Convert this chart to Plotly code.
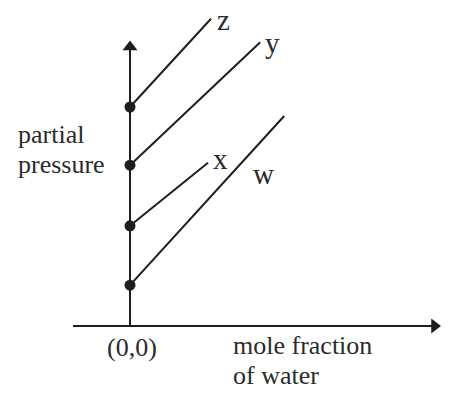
import plotly.graph_objects as go

# data (units: diagram units, origin at (0,0))
line_names = ["w", "x", "y", "z"]
intercepts = [0.68, 1.67, 2.68, 3.65]
end_x = [2.57, 1.30, 2.17, 1.35]
end_y = [3.50, 2.72, 4.73, 5.12]
label_x = [2.22, 1.50, 2.37, 1.55]
label_y = [2.53, 2.78, 4.72, 5.10]

axis_x_end = 5.18
axis_y_end = 4.75
axis_x_start = -0.95

INK = "#1e1e1e"
TXT = "#2b2b2b"
FONT = "Liberation Serif"

fig = go.Figure()

# axes lines
fig.add_trace(go.Scatter(x=[axis_x_start, axis_x_end - 0.05], y=[0, 0], mode="lines",
                         line=dict(color=INK, width=2), hoverinfo="skip"))
fig.add_trace(go.Scatter(x=[0, 0], y=[0, axis_y_end - 0.05], mode="lines",
                         line=dict(color=INK, width=2), hoverinfo="skip"))
# arrow heads
fig.add_trace(go.Scatter(x=[axis_x_end - 0.105], y=[0], mode="markers",
                         marker=dict(symbol="triangle-right", size=13, color=INK), hoverinfo="skip"))
fig.add_trace(go.Scatter(x=[0], y=[axis_y_end - 0.1], mode="markers",
                         marker=dict(symbol="triangle-up", size=13, color=INK), hoverinfo="skip"))

# lines
for name, b, ex, ey in zip(line_names, intercepts, end_x, end_y):
    fig.add_trace(go.Scatter(x=[0, ex], y=[b, ey], mode="lines",
                             line=dict(color=INK, width=2), hoverinfo="skip", name=name))

# points on axis
fig.add_trace(go.Scatter(x=[0] * len(intercepts), y=intercepts, mode="markers",
                         marker=dict(size=11, color=INK), hoverinfo="skip"))

# line labels
for name, lx, ly in zip(line_names, label_x, label_y):
    fig.add_annotation(x=lx, y=ly, text=name, showarrow=False,
                       font=dict(family=FONT, size=29, color=TXT), xanchor="center", yanchor="middle")

txt_font = dict(family=FONT, size=26, color=TXT)
fig.add_annotation(x=-1.9, y=3.20, text="partial", showarrow=False,
                   font=txt_font, xanchor="left", yanchor="middle")
fig.add_annotation(x=-1.9, y=2.70, text="pressure", showarrow=False,
                   font=txt_font, xanchor="left", yanchor="middle")
fig.add_annotation(x=0.03, y=-0.35, text="(0,0)", showarrow=False,
                   font=txt_font, xanchor="center", yanchor="middle")
fig.add_annotation(x=1.68, y=-0.33, text="mole fraction", showarrow=False,
                   font=txt_font, xanchor="left", yanchor="middle")
fig.add_annotation(x=1.68, y=-0.83, text="of water", showarrow=False,
                   font=txt_font, xanchor="left", yanchor="middle")

fig.update_layout(
    width=452, height=401,
    margin=dict(l=0, r=0, t=0, b=0),
    paper_bgcolor="white", plot_bgcolor="white",
    showlegend=False,
    xaxis=dict(range=[-130 / 60, 322 / 60], visible=False, fixedrange=True),
    yaxis=dict(range=[-75 / 60, 326 / 60], visible=False, fixedrange=True),
)

fig.write_html("out.html", config={"displayModeBar": False},
               post_script="document.body.style.margin='0';document.body.style.overflow='hidden';")
